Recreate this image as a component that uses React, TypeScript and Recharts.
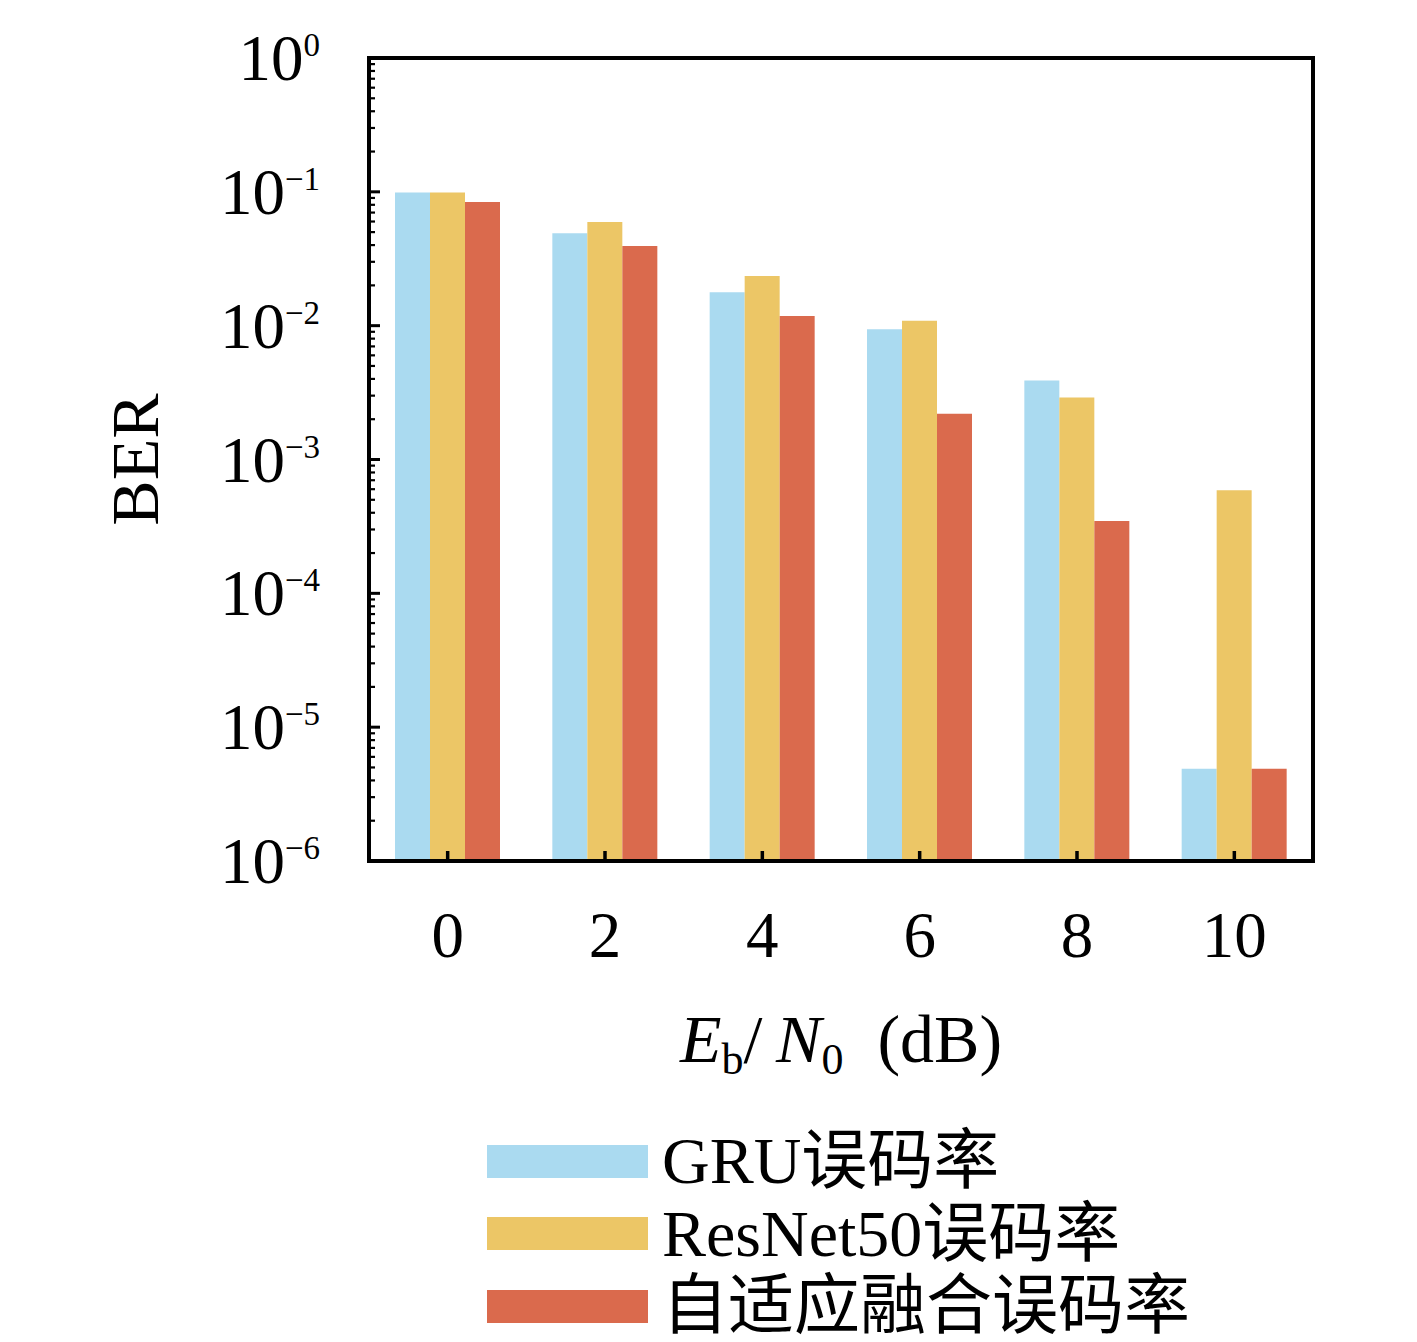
import React from 'react';
import { BarChart, Bar, XAxis, YAxis, Legend, ReferenceArea } from 'recharts';

const categories = ['0', '2', '4', '6', '8', '10'];
const gruBER = [0.099, 0.049, 0.0178, 0.0094, 0.0039, 4.9e-6];
const resnetBER = [0.099, 0.0595, 0.0235, 0.0109, 0.0029, 5.9e-4];
const adaptiveBER = [0.084, 0.0394, 0.0118, 0.0022, 3.47e-4, 4.9e-6];

const seriesNames = ['GRU误码率', 'ResNet50误码率', '自适应融合误码率'];
const seriesKeys = ['gru', 'resnet', 'adaptive'];
const seriesColors = ['#AADAF0', '#ECC666', '#DA6A4D'];

const majorExponents = [0, -1, -2, -3, -4, -5, -6];
const majorTicks = majorExponents.map((e) => Math.pow(10, e));
const minorMultipliers = [2, 3, 4, 5, 6, 7, 8, 9];
const minorTicks: number[] = [];
majorExponents.slice(1).forEach((e) => {
  minorMultipliers.forEach((m) => minorTicks.push(m * Math.pow(10, e)));
});
const allTicks = [...majorTicks, ...minorTicks].sort((a, b) => a - b);

const data = categories.map((c, i) => ({
  snr: c,
  gru: gruBER[i],
  resnet: resnetBER[i],
  adaptive: adaptiveBER[i],
}));

const SERIF = "'Liberation Serif', 'Noto Sans CJK SC', serif";

const YTick = (props: any) => {
  const { x, y, payload } = props;
  const v = payload.value;
  const exp = Math.round(Math.log10(v));
  const isMajor = Math.abs(v - Math.pow(10, exp)) / v < 1e-6;
  return (
    <g>
      <line x1={x} y1={y} x2={x + (isMajor ? 11 : 6)} y2={y} stroke="#000" strokeWidth={isMajor ? 3 : 2.2} />
      {isMajor && (
        <text x={x - 49} y={y + 22} textAnchor="end" fontFamily={SERIF} fontSize={65} fill="#000">
          <tspan>10</tspan>
          <tspan fontSize={33} dy={-24}>{exp === 0 ? '0' : '\u2212' + String(-exp)}</tspan>
        </text>
      )}
    </g>
  );
};

const XTick = (props: any) => {
  const { x, y, payload } = props;
  return (
    <g>
      <line x1={x} y1={y} x2={x} y2={y - 10} stroke="#000" strokeWidth={3.5} />
      <text x={x} y={y + 96} textAnchor="middle" fontFamily={SERIF} fontSize={65} fill="#000">
        {payload.value}
      </text>
    </g>
  );
};

const XLabel = (props: any) => {
  const vb = props.viewBox || {};
  const cx = vb.x + vb.width / 2;
  const y = vb.y + 201;
  return (
    <text x={cx} y={y} textAnchor="middle" fontFamily={SERIF} fontSize={68} fill="#000">
      <tspan fontStyle="italic">E</tspan>
      <tspan fontSize={44} dy={12}>b</tspan>
      <tspan dy={-12}>/{'\u2009'}</tspan>
      <tspan fontStyle="italic">N</tspan>
      <tspan fontSize={44} dy={12}>0</tspan>
      <tspan dy={-12}>{'\u2002'}(dB)</tspan>
    </text>
  );
};

const YLabel = (props: any) => {
  const vb = props.viewBox || {};
  const cy = vb.y + vb.height / 2;
  const x = 158;
  return (
    <text
      x={x}
      y={cy}
      textAnchor="middle"
      transform={`rotate(-90, ${x}, ${cy})`}
      fontFamily={SERIF}
      fontSize={68}
      fill="#000"
    >
      BER
    </text>
  );
};

const LegendContent = () => (
  <div style={{ display: 'flex', flexDirection: 'column' }}>
    {seriesNames.map((name, i) => (
      <div key={name} style={{ display: 'flex', alignItems: 'center', height: 72.5 }}>
        <div style={{ width: 161, height: 33, background: seriesColors[i], marginRight: 14 }} />
        <span style={{ fontFamily: SERIF, fontSize: 66, lineHeight: '72px', color: '#000', whiteSpace: 'nowrap' }}>
          {name}
        </span>
      </div>
    ))}
  </div>
);

export default function App() {
  const axisLine = { stroke: '#000', strokeWidth: 4, strokeLinecap: 'square' as const };
  return (
    <div style={{ position: 'absolute', left: 0, top: 0, background: '#fff' }}>
      <BarChart
        width={1417}
        height={1342}
        data={data}
        margin={{ top: 58, right: 104, bottom: 0, left: 0 }}
        barGap={0}
        barSize={35}
      >
        <XAxis
          dataKey="snr"
          xAxisId="main"
          height={481}
          axisLine={axisLine}
          tickLine={false}
          tickSize={0}
          tickMargin={0}
          tick={<XTick />}
          interval={0}
          label={<XLabel />}
        />
        <YAxis
          yAxisId="main"
          scale="log"
          domain={[1e-6, 1]}
          allowDataOverflow
          ticks={allTicks}
          interval={0}
          width={369}
          axisLine={axisLine}
          tickLine={false}
          tickSize={0}
          tickMargin={0}
          tick={<YTick />}
          label={<YLabel />}
        />
        {seriesKeys.map((k, i) => (
          <Bar
            key={k}
            dataKey={k}
            name={seriesNames[i]}
            fill={seriesColors[i]}
            xAxisId="main"
            yAxisId="main"
            isAnimationActive={false}
          />
        ))}
        <ReferenceArea
          xAxisId="main"
          yAxisId="main"
          y1={1e-6}
          y2={1}
          fill="none"
          fillOpacity={0}
          stroke="#000"
          strokeWidth={4}
          ifOverflow="visible"
        />
        <Legend
          layout="horizontal"
          verticalAlign="middle"
          align="center"
          content={<LegendContent />}
          wrapperStyle={{ left: 487, top: 1125, width: 800 }}
        />
      </BarChart>
    </div>
  );
}
